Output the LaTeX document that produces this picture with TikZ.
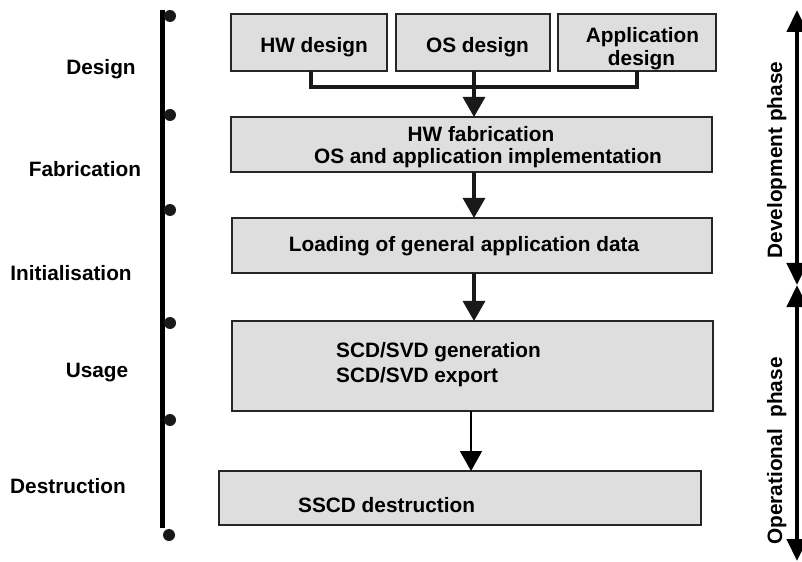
\documentclass[tikz,border=0pt]{standalone}
\usepackage{fontspec}
\setmainfont{Liberation Sans}
\usetikzlibrary{arrows.meta}
\begin{document}
\begin{tikzpicture}[x=1bp,y=-1bp,
  box/.style={draw=black!85,line width=1.3bp,fill=black!13,inner sep=0pt,outer sep=0pt},
  txt/.style={font=\fontsize{20.8bp}{25bp}\selectfont\bfseries,inner sep=0pt,anchor=base},
  dot/.style={circle,fill=black!90,inner sep=0pt,minimum size=12bp},
  thickcon/.style={line width=3.2bp,draw=black!90},
  flow/.style={thickcon,-{Triangle[width=22bp,length=20bp]}},
  thinflow/.style={line width=1.5bp,draw=black,-{Triangle[width=22bp,length=20bp]}},
  phase/.style={line width=4.5bp,{Triangle[width=20bp,length=22bp]}-{Triangle[width=20bp,length=22bp]}}
]
\useasboundingbox (0,0) rectangle (802,562);

% timeline
\coordinate (lt) at (162.5,10);
\coordinate (lb) at (162.5,528);
\draw[line width=4.5bp] (lt) -- (lb);
\foreach \n/\y in {d1/16,d2/115,d3/210,d4/323,d5/420}{
  \node[dot] (\n) at (170,\y) {};
}
\node[dot] (d6) at (169,535) {};

% stage labels
\node[txt] (lDesign) at (101,75) {Design};
\node[txt] (lFab) at (85,177) {Fabrication};
\node[txt] (lInit) at (71,281) {Initialisation};
\node[txt] (lUse) at (97,377) {Usage};
\node[txt] (lDes) at (68,493) {Destruction};

% boxes
\node[box,minimum width=156bp,minimum height=57bp] (hw) at (309,42.5) {};
\node[box,minimum width=154bp,minimum height=57bp] (os) at (473,42.5) {};
\node[box,minimum width=158bp,minimum height=57bp] (app) at (637,42.5) {};
\node[box,minimum width=481bp,minimum height=55bp] (fab) at (471.5,144.5) {};
\node[box,minimum width=480bp,minimum height=55bp] (load) at (472,245.5) {};
\node[box,minimum width=481bp,minimum height=90bp] (scd) at (472.5,366) {};
\node[box,minimum width=482bp,minimum height=54bp] (sscd) at (460,498) {};

% box texts
\node[txt] (thw) at (314,53) {HW design};
\node[txt] (tos) at (477.5,53) {OS design};
\node[txt] (tapp1) at (642.5,43) {Application};
\node[txt] (tapp2) at (641.5,66) {design};
\node[txt] (tfab1) at (481,142) {HW fabrication};
\node[txt] (tfab2) at (488,164) {OS and application implementation};
\node[txt] (tload) at (464,252) {Loading of general application data};
\node[txt,anchor=base west] (tscd1) at (336,357) {SCD/SVD generation};
\node[txt,anchor=base west] (tscd2) at (336,382) {SCD/SVD export};
\node[txt,anchor=base west] (tsscd) at (298,512) {SSCD destruction};

% connectors
\coordinate (jl) at (311,87);
\coordinate (jr) at (637,87);
\draw[thickcon] (hw.south -| jl) -- (jl) -- (jr) -- (app.south -| jr);
\draw[flow] (os.south -| 474,0) -- (fab.north -| 474,0);
\draw[flow] (fab.south -| 474,0) -- (load.north -| 474,0);
\draw[flow] (load.south -| 474,0) -- (scd.north -| 474,0);
\draw[thinflow] (scd.south -| 471,0) -- (sscd.north -| 471,0);

% phases
\coordinate (pt) at (797,10);
\coordinate (pm) at (797,285);
\coordinate (pb) at (797,561);
\draw[phase] (pt) -- (pm);
\draw[phase] (pm) -- (pb);
\node[txt,rotate=90] (tdev) at (782,160) {Development phase};
\node[txt,rotate=90] (top) at (782,451) {Operational\ \ phase};
\end{tikzpicture}
\end{document}
